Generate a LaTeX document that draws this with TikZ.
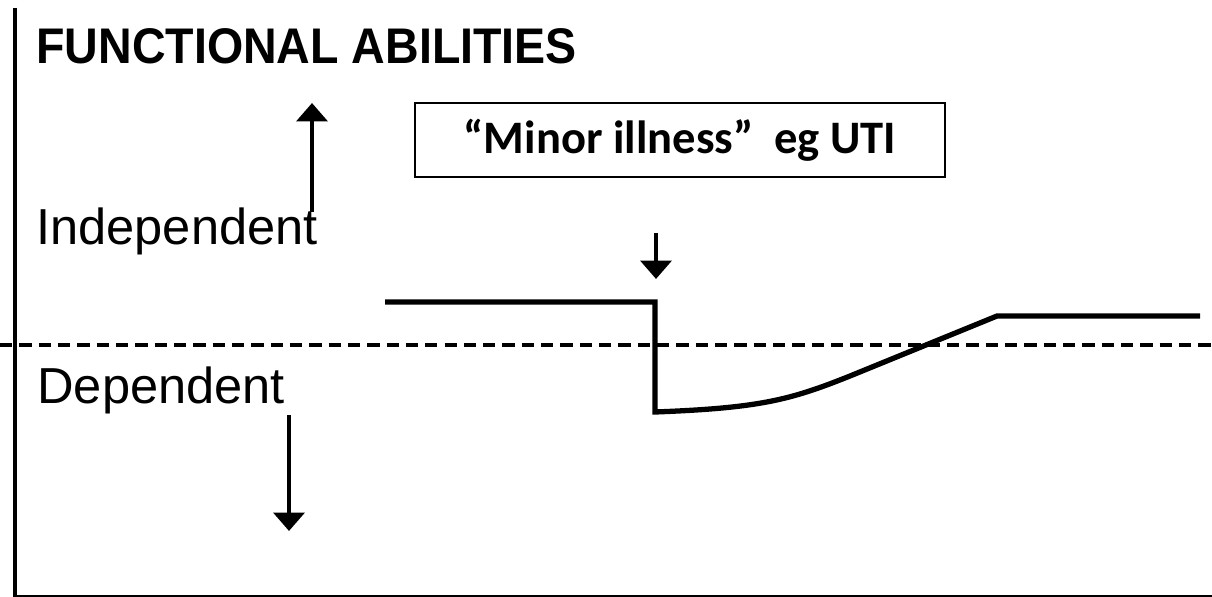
\documentclass[tikz,border=0pt]{standalone}
\usepackage{fontspec}
\setmainfont{Liberation Sans}
\newfontfamily\boxfont{Carlito}
\usetikzlibrary{arrows.meta,positioning}

\begin{document}
\begin{tikzpicture}[x=0.02cm,y=-0.02cm]
	\tikzset{label/.style={inner sep=0pt,anchor=base west},
		pointer/.style={line width=2.6pt,-{Triangle[width=17.5pt,length=10.5pt]}},
		level/.style={line width=3pt,line join=miter}}
	\useasboundingbox (0,0) rectangle (1212,597);
	% axes
	\coordinate (top) at (15,8);
	\coordinate (origin) at (15,597);
	\coordinate (far) at (1212,596);
	\draw[line width=2.3pt] (top) -- (origin);
	\draw[line width=1.1pt] (origin |- far) -- (far);
	% threshold
	\coordinate (thl) at (0,345);
	\coordinate (thr) at (1212,345);
	\draw[line width=2pt,dash pattern=on 7pt off 4pt] (thl) -- (thr);
	% texts
	\node[label,font=\fontsize{28.5}{32}\selectfont\bfseries] (title) at (36,64) {\scalebox{0.93}[1]{FUNCTIONAL ABILITIES}};
	\node[label,font=\fontsize{28.8}{32}\selectfont] (indep) at (36,245) {Independent};
	\node[label,font=\fontsize{28.8}{32}\selectfont] (dep) at (37,403) {Dependent};
	\node[draw,line width=1pt,minimum width=10.6cm,minimum height=1.48cm,
		font=\fontsize{26.5}{30}\selectfont\boxfont\bfseries] (illness) at (680,140)
		{“Minor illness”\ \ eg UTI};
	% direction arrows
	\coordinate (upfrom) at (312,212);
	\coordinate (upto) at (312,103);
	\coordinate (hitfrom) at (656,233);
	\coordinate (hitto) at (656,279);
	\coordinate (downfrom) at (289,415);
	\coordinate (downto) at (289,531);
	\draw[pointer] (upfrom) -- (upto);
	\draw[pointer] (hitfrom) -- (hitto);
	\draw[pointer] (downfrom) -- (downto);
	% course of the illness
	\coordinate (before) at (385,302);
	\coordinate (onset) at (655,302);
	\coordinate (drop) at (655,412);
	\coordinate (turn) at (850,376);
	\coordinate (recovered) at (997,316);
	\coordinate (after) at (1200,316);
	\draw[level] (before) -- (onset) -- (drop)
		.. controls (760,408) and (790,400) .. (turn) -- (recovered) -- (after);
\end{tikzpicture}
\end{document}
